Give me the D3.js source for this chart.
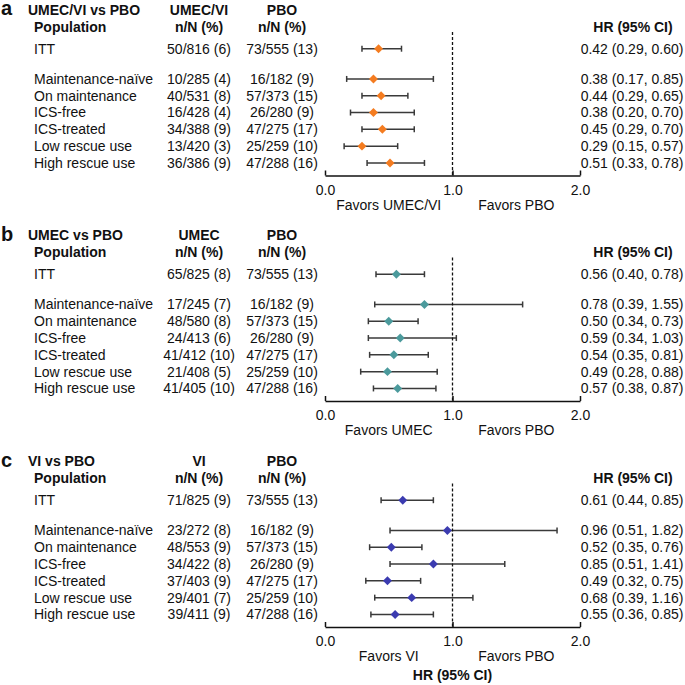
<!DOCTYPE html>
<html>
<head>
<meta charset="utf-8">
<script src="https://cdn.jsdelivr.net/npm/d3@7"></script>
<style>
  body { margin: 0; background: #fff; }
  text { font-family: "Liberation Sans", Arial, Helvetica, sans-serif; fill: #111; }
</style>
</head>
<body>
<script>
const populations = ['ITT', 'Maintenance-naïve', 'On maintenance', 'ICS-free', 'ICS-treated', 'Low rescue use', 'High rescue use'];

const panelLetters = ['a', 'b', 'c'];
const panelTitles = ['UMEC/VI vs PBO', 'UMEC vs PBO', 'VI vs PBO'];
const treatmentNames = ['UMEC/VI', 'UMEC', 'VI'];
const colors = ['#f47c20', '#4b9a9c', '#3b3bb0'];

const treatmentCounts = [
  ['50/816 (6)', '10/285 (4)', '40/531 (8)', '16/428 (4)', '34/388 (9)', '13/420 (3)', '36/386 (9)'],
  ['65/825 (8)', '17/245 (7)', '48/580 (8)', '24/413 (6)', '41/412 (10)', '21/408 (5)', '41/405 (10)'],
  ['71/825 (9)', '23/272 (8)', '48/553 (9)', '34/422 (8)', '37/403 (9)', '29/401 (7)', '39/411 (9)']
];
const pboCounts = ['73/555 (13)', '16/182 (9)', '57/373 (15)', '26/280 (9)', '47/275 (17)', '25/259 (10)', '47/288 (16)'];

const hr = [
  [0.42, 0.38, 0.44, 0.38, 0.45, 0.29, 0.51],
  [0.56, 0.78, 0.50, 0.59, 0.54, 0.49, 0.57],
  [0.61, 0.96, 0.52, 0.85, 0.49, 0.68, 0.55]
];
const lower = [
  [0.29, 0.17, 0.29, 0.20, 0.29, 0.15, 0.33],
  [0.40, 0.39, 0.34, 0.34, 0.35, 0.28, 0.38],
  [0.44, 0.51, 0.35, 0.51, 0.32, 0.39, 0.36]
];
const upper = [
  [0.60, 0.85, 0.65, 0.70, 0.70, 0.57, 0.78],
  [0.78, 1.55, 0.73, 1.03, 0.81, 0.88, 0.87],
  [0.85, 1.82, 0.76, 1.41, 0.75, 1.16, 0.85]
];
const tickValues = [0, 1, 2];
const favorLabels = [['Favors UMEC/VI', 'Favors PBO'], ['Favors UMEC', 'Favors PBO'], ['Favors VI', 'Favors PBO']];

const W = 685, H = 685;
const panelOffsets = [0, 225.5, 451.5];

const x = d3.scaleLinear().domain([0, 2]).range([325, 580]);
// row slot: ITT sits apart from the subgroups
const slot = i => (i === 0 ? 0 : i + 0.8);
const y = d3.scaleLinear().domain([0, 1]).range([48.7, 65.5]);

const svg = d3.select('body').append('svg')
  .attr('width', W)
  .attr('height', H);

// square turned 45deg, closer to the reference than the tall d3 diamond
const diamond = d3.symbol().type(d3.symbolSquare).size(40);

panelLetters.forEach((letter, p) => {
  const g = svg.append('g').attr('transform', `translate(0,${panelOffsets[p]})`);

  g.append('text').attr('x', 1).attr('y', 15)
    .style('font-size', '20px').style('font-weight', 'bold').text(letter);

  const bold = (tx, ty, s, anchor) => g.append('text')
    .attr('x', tx).attr('y', ty).attr('dy', '0.35em')
    .attr('text-anchor', anchor || 'start')
    .style('font-size', '14px').style('font-weight', 'bold').text(s);

  bold(28, 10, panelTitles[p]);
  bold(34, 27, 'Population');
  bold(199, 10, treatmentNames[p], 'middle');
  bold(199, 27, 'n/N (%)', 'middle');
  bold(282, 10, 'PBO', 'middle');
  bold(282, 27, 'n/N (%)', 'middle');
  bold(633, 27, 'HR (95% CI)', 'middle');

  const rows = g.selectAll('g.row')
    .data(populations.map((name, i) => ({
      name, i,
      n1: treatmentCounts[p][i], n2: pboCounts[i],
      hr: hr[p][i], lo: lower[p][i], hi: upper[p][i]
    })))
    .join('g')
    .attr('class', 'row')
    .attr('transform', d => `translate(0,${y(slot(d.i))})`);

  const cell = (sel, tx, f, anchor) => sel.append('text')
    .attr('x', tx).attr('dy', '0.35em')
    .attr('text-anchor', anchor)
    .style('font-size', '14px').text(f);

  cell(rows, 34, d => d.name, 'start');
  cell(rows, 199, d => d.n1, 'middle');
  cell(rows, 282, d => d.n2, 'middle');
  cell(rows, 632, d => `${d.hr.toFixed(2)} (${d.lo.toFixed(2)}, ${d.hi.toFixed(2)})`, 'middle');

  // reference line at HR = 1
  g.append('line')
    .attr('x1', x(1)).attr('x2', x(1))
    .attr('y1', 32).attr('y2', 175.5)
    .attr('stroke', '#111').attr('stroke-width', 1.3)
    .attr('stroke-dasharray', '3,2');

  rows.append('line')
    .attr('x1', d => x(d.lo)).attr('x2', d => x(d.hi))
    .attr('stroke', '#3a3a3a').attr('stroke-width', 1.5);
  rows.selectAll('line.cap')
    .data(d => [d.lo, d.hi])
    .join('line')
    .attr('class', 'cap')
    .attr('x1', v => x(v)).attr('x2', v => x(v))
    .attr('y1', -3).attr('y2', 3)
    .attr('stroke', '#3a3a3a').attr('stroke-width', 1.5);
  rows.append('path')
    .attr('d', diamond)
    .attr('transform', d => `translate(${x(d.hr)},0) rotate(45)`)
    .attr('fill', colors[p]);

  const axis = g.append('g')
    .attr('transform', 'translate(0,175.5)')
    .call(d3.axisBottom(x)
      .tickValues(tickValues)
      .tickFormat(d3.format('.1f'))
      .tickSizeInner(-5)
      .tickSizeOuter(0)
      .tickPadding(9.5));
  axis.select('.domain').attr('stroke', '#111').attr('stroke-width', 1.5);
  axis.selectAll('.tick line').attr('stroke', '#111').attr('stroke-width', 1.5);
  axis.selectAll('.tick text')
    .style('font-size', '14px')
    .style('font-family', '"Liberation Sans", Arial, sans-serif')
    .attr('fill', '#111');

  g.append('text').attr('x', x(0.5)).attr('y', 205).attr('dy', '0.35em')
    .attr('text-anchor', 'middle').style('font-size', '14px').text(favorLabels[p][0]);
  g.append('text').attr('x', x(1.5)).attr('y', 205).attr('dy', '0.35em')
    .attr('text-anchor', 'middle').style('font-size', '14px').text(favorLabels[p][1]);
});

svg.append('text')
  .attr('x', x(1)).attr('y', 675).attr('dy', '0.35em')
  .attr('text-anchor', 'middle')
  .style('font-size', '14px').style('font-weight', 'bold')
  .text('HR (95% CI)');
</script>
</body>
</html>
